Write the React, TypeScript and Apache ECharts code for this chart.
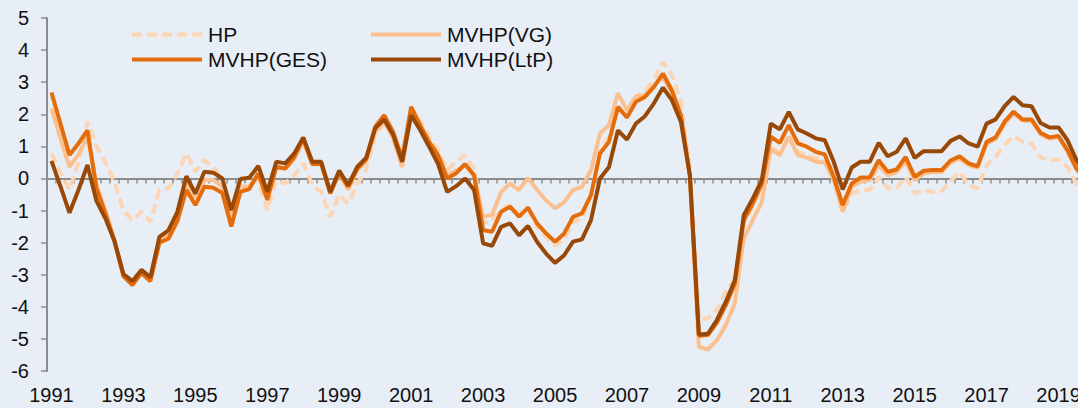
import React, { useEffect, useRef } from "react";
import * as echarts from "echarts";

const years = [1991, 1992, 1993, 1994, 1995, 1996, 1997, 1998, 1999, 2000, 2001, 2002, 2003, 2004, 2005, 2006, 2007, 2008, 2009, 2010, 2011, 2012, 2013, 2014, 2015, 2016, 2017, 2018, 2019];
const quarters = ["Q1", "Q2", "Q3", "Q4"];
const categories: string[] = [];
years.forEach((y) => quarters.forEach((q) => categories.push(`${y} ${q}`)));

const seriesNames = ["HP", "MVHP(VG)", "MVHP(GES)", "MVHP(LtP)"];

const hp = [
  0.78, 0.2, -0.36, 0.5, 1.77, 1.0, 0.5, -0.1, -0.99, -1.3, -1.04, -1.35, -0.36, -0.31, 0.16, 0.78,
  0.21, 0.57, 0.36, -0.05, -1.1, -0.26, -0.2, -0.05, -0.99, -0.05, -0.15, 0.1, 0.47, -0.2, -0.42, -1.19,
  -0.5, -0.78, -0.16, 0.26, 1.35, 1.71, 1.3, 0.4, 2.1, 1.8, 1.3, 0.88, 0.26, 0.52, 0.73, 0.31,
  -1.4, -1.3, -0.99, -0.83, -1.1, -0.95, -1.5, -1.82, -2.08, -1.92, -1.35, -1.25, -0.57, 0.88, 1.3, 2.13,
  2.08, 2.54, 2.75, 3.06, 3.63, 3.22, 2.39, 0.3, -4.4, -4.36, -4.1, -3.53, -3.12, -1.4, -0.85, -0.25,
  0.99, 0.78, 1.35, 0.83, 0.72, 0.65, 0.6, 0.0, -1.04, -0.47, -0.36, -0.36, 0.05, -0.31, -0.3, 0.05,
  -0.47, -0.36, -0.42, -0.4, -0.08, 0.2, -0.21, -0.31, 0.41, 0.67, 1.04, 1.32, 1.14, 1.09, 0.65, 0.57,
  0.59, 0.36, -0.16, -0.5,
];

const vg = [
  2.18, 1.25, 0.36, 0.75, 1.3, -0.2, -1.0, -1.9, -3.0, -3.22, -2.85, -3.12, -1.95, -1.75, -1.25, -0.15,
  -0.6, -0.05, -0.05, -0.25, -1.3, -0.3, -0.25, 0.1, -0.55, 0.35, 0.3, 0.6, 1.15, 0.45, 0.45, -0.45,
  0.15, -0.35, 0.25, 0.55, 1.45, 1.77, 1.25, 0.36, 2.05, 1.6, 1.15, 0.7, 0.1, 0.25, 0.4, 0.1,
  -1.19, -1.14, -0.42, -0.16, -0.36, 0.02, -0.36, -0.68, -0.93, -0.75, -0.36, -0.26, 0.26, 1.4, 1.66, 2.65,
  2.13, 2.56, 2.6, 2.9, 3.17, 2.65, 1.9, 0.0, -5.25, -5.33, -5.04, -4.57, -3.89, -1.87, -1.3, -0.73,
  0.93, 0.73, 1.3, 0.73, 0.65, 0.52, 0.5, -0.05, -1.04, -0.26, -0.1, -0.05, 0.41, 0.1, 0.2, 0.52,
  -0.05, 0.15, 0.2, 0.2, 0.5, 0.62, 0.42, 0.33, 1.08, 1.22, 1.7, 2.02, 1.8, 1.8, 1.38, 1.24,
  1.28, 0.84, 0.27, -0.05,
];

const ges = [
  2.68, 1.7, 0.73, 1.09, 1.5, -0.3, -1.1, -1.95, -3.05, -3.32, -2.95, -3.2, -2.0, -1.88, -1.33, -0.36,
  -0.83, -0.26, -0.29, -0.45, -1.5, -0.42, -0.33, 0.16, -0.67, 0.36, 0.31, 0.67, 1.25, 0.45, 0.45, -0.47,
  0.18, -0.26, 0.31, 0.6, 1.61, 1.97, 1.45, 0.62, 2.23, 1.66, 1.14, 0.73, 0.0, 0.16, 0.45, 0.1,
  -1.61, -1.66, -1.04, -0.88, -1.19, -0.91, -1.4, -1.71, -1.97, -1.72, -1.2, -1.09, -0.52, 0.78, 1.14, 2.23,
  1.9, 2.39, 2.54, 2.85, 3.27, 2.75, 1.97, 0.1, -4.9, -4.88, -4.5, -3.95, -3.27, -1.3, -0.78, -0.16,
  1.3, 1.11, 1.66, 1.09, 0.99, 0.83, 0.75, 0.05, -0.83, -0.16, 0.03, 0.03, 0.57, 0.21, 0.28, 0.67,
  0.05, 0.24, 0.26, 0.26, 0.56, 0.69, 0.47, 0.38, 1.14, 1.28, 1.77, 2.08, 1.84, 1.84, 1.42, 1.28,
  1.32, 0.88, 0.31, 0.0,
];

const ltp = [
  0.55, -0.25, -1.07, -0.36, 0.42, -0.7, -1.25, -1.95, -2.98, -3.2, -2.85, -3.08, -1.82, -1.62, -1.04, 0.07,
  -0.47, 0.21, 0.18, 0.0, -0.99, -0.02, 0.02, 0.39, -0.42, 0.52, 0.47, 0.78, 1.28, 0.52, 0.52, -0.42,
  0.25, -0.21, 0.36, 0.65, 1.56, 1.84, 1.35, 0.52, 1.97, 1.51, 0.99, 0.45, -0.42, -0.24, 0.0, -0.36,
  -2.02, -2.1, -1.51, -1.4, -1.77, -1.48, -1.97, -2.34, -2.63, -2.4, -1.97, -1.9, -1.3, 0.0, 0.36, 1.5,
  1.21, 1.71, 1.94, 2.34, 2.83, 2.44, 1.77, 0.1, -4.86, -4.84, -4.41, -3.84, -3.17, -1.14, -0.62, -0.05,
  1.71, 1.53, 2.07, 1.53, 1.4, 1.25, 1.19, 0.52, -0.34, 0.34, 0.52, 0.52, 1.11, 0.69, 0.83, 1.25,
  0.64, 0.85, 0.85, 0.85, 1.17, 1.31, 1.09, 0.99, 1.71, 1.84, 2.25, 2.54, 2.28, 2.25, 1.73, 1.59,
  1.59, 1.19, 0.57, 0.2,
];

const colors = ["#FCD5B5", "#FAC090", "#E46C0A", "#984807"];
const FONT = "'Liberation Sans', Arial, sans-serif";
const LINE_W = 4;

export default function App() {
  const ref = useRef<HTMLDivElement>(null);
  useEffect(() => {
    if (!ref.current) return;
    const chart = echarts.init(ref.current, undefined, { renderer: "svg" });
    const values = [hp, vg, ges, ltp];
    // legend layout: [seriesIndex, lineStartX, rowCenterY]
    const legendSlots: [number, number, number][] = [
      [0, 132, 34.5],
      [2, 132, 59.5],
      [1, 371, 34.5],
      [3, 371, 59.5],
    ];
    const legendGraphics: any[] = [];
    legendSlots.forEach(([k, x, y]) => {
      legendGraphics.push({
        type: "line",
        shape: { x1: x, y1: y, x2: x + 70, y2: y },
        style: {
          stroke: colors[k],
          lineWidth: LINE_W,
          lineDash: k === 0 ? [10, 5] : null,
        },
        z: 10,
      });
      legendGraphics.push({
        type: "text",
        x: x + 76,
        y: y,
        style: {
          text: seriesNames[k],
          fontSize: 21,
          fontFamily: FONT,
          fill: "#111",
          verticalAlign: "middle",
          align: "left",
        },
        z: 10,
      });
    });
    const option: any = {
      animation: false,
      backgroundColor: "#E8EEF6",
      textStyle: { fontFamily: FONT },
      grid: { left: 47, top: 18, bottom: 37, right: 0, containLabel: false },
      legend: { show: false },
      graphic: legendGraphics,
      xAxis: [
        {
          type: "category",
          data: categories,
          boundaryGap: true,
          axisLine: { onZero: true, lineStyle: { color: "#8C8C8C", width: 2 } },
          axisTick: { show: true, interval: 0, length: 5, lineStyle: { color: "#8C8C8C", width: 1.5 } },
          axisLabel: { show: false },
          splitLine: { show: false },
        },
        {
          type: "category",
          data: categories,
          boundaryGap: true,
          position: "bottom",
          axisLine: { show: false, onZero: false },
          axisTick: { show: false },
          axisLabel: {
            interval: (idx: number) => idx % 8 === 0,
            formatter: (v: string) => v.slice(0, 4),
            fontSize: 20,
            color: "#111",
            margin: 14,
            fontFamily: FONT,
          },
          splitLine: { show: false },
        },
      ],
      yAxis: {
        type: "value",
        min: -6,
        max: 5,
        interval: 1,
        axisLine: { show: true, lineStyle: { color: "#8C8C8C", width: 2 } },
        axisTick: { show: true, length: 6, lineStyle: { color: "#8C8C8C", width: 1.5 } },
        axisLabel: { fontSize: 20, color: "#111", margin: 18, fontFamily: FONT },
        splitLine: { show: false },
      },
      series: seriesNames.map((name, k) => ({
        name,
        type: "line",
        data: values[k],
        xAxisIndex: 0,
        symbol: "none",
        smooth: false,
        z: 2 + k,
        color: colors[k],
        lineStyle: {
          color: colors[k],
          width: LINE_W,
          type: k === 0 ? [10, 5] : "solid",
        },
      })),
    };
    chart.setOption(option);
    return () => chart.dispose();
  }, []);
  return (
    <div
      style={{ position: "absolute", left: 0, top: 0, width: 1078, height: 408, overflow: "hidden" }}
    >
      <div ref={ref} style={{ position: "absolute", left: 0, top: 0, width: 1090, height: 408 }} />
    </div>
  );
}
